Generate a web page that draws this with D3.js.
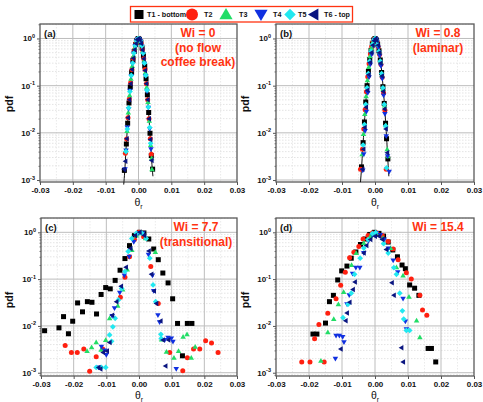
<!DOCTYPE html>
<html>
<head>
<meta charset="utf-8">
<script src="https://cdn.jsdelivr.net/npm/d3@7"></script>
<style>
  body { margin: 0; background: #fff; }
  svg { font-family: Arial, "Liberation Sans", sans-serif; display: block; }
</style>
</head>
<body>
<svg id="chart" width="483" height="402"></svg>
<script>
// ---- series metadata ----
const seriesNames  = ["T1 - bottom", "T2", "T3", "T4", "T5", "T6 - top"];
const seriesColors = ["#000000", "#ff2010", "#22dd66", "#1030e0", "#22e8f0", "#0a1580"];
const seriesShapes = ["square", "circle", "triUp", "triDown", "diamond", "triLeft"];

// ---- axis ticks ----
const xTickValues = [-0.03, -0.02, -0.01, 0.00, 0.01, 0.02, 0.03];
const xMinorValues = [-0.025, -0.015, -0.005, 0.005, 0.015, 0.025];
const yDecades = [0, -1, -2, -3];

// ---- panel texts ----
const panelTags = ["(a)", "(b)", "(c)", "(d)"];
const panelTitles = [
  ["Wi = 0", "(no flow", "coffee break)"],
  ["Wi = 0.8", "(laminar)"],
  ["Wi = 7.7", "(transitional)"],
  ["Wi = 15.4"]
];

// ---- (a) Wi = 0 : [theta_r, pdf] ----
const a_T1 = [[-0.0043,0.0016],[-0.0037,0.0058],[-0.0033,0.016],[-0.0029,0.043],[-0.0025,0.094],[-0.0021,0.19],[-0.0017,0.34],[-0.0013,0.53],[-0.0009,0.74],[-0.0005,0.91],[-0.0001,1.0],[0.0003,0.96],[0.0007,0.83],[0.0011,0.63],[0.0015,0.43],[0.0019,0.26],[0.0023,0.14],[0.0027,0.064],[0.0031,0.027],[0.0035,0.0098],[0.0039,0.0033],[0.0043,0.0017]];
const a_T2 = [[-0.0040,0.0037],[-0.0036,0.0074],[-0.0032,0.021],[-0.0028,0.052],[-0.0024,0.115],[-0.0020,0.22],[-0.0016,0.38],[-0.0012,0.58],[-0.0008,0.79],[-0.0004,0.94],[0.0000,1.0],[0.0004,0.94],[0.0008,0.78],[0.0012,0.58],[0.0016,0.37],[0.0020,0.22],[0.0024,0.11],[0.0028,0.05],[0.0032,0.02],[0.0036,0.0075],[0.0039,0.0035]];
const a_T3 = [[-0.0039,0.0043],[-0.0035,0.011],[-0.0031,0.027],[-0.0027,0.063],[-0.0023,0.14],[-0.0019,0.26],[-0.0015,0.43],[-0.0011,0.64],[-0.0007,0.83],[-0.0003,0.96],[0.0001,0.99],[0.0005,0.91],[0.0009,0.73],[0.0013,0.53],[0.0017,0.34],[0.0021,0.19],[0.0025,0.092],[0.0029,0.045],[0.0033,0.018],[0.0037,0.0055],[0.0040,0.0029],[0.0041,0.0017]];
const a_T4 = [[-0.0041,0.0017],[-0.0038,0.0042],[-0.0034,0.013],[-0.0030,0.032],[-0.0026,0.078],[-0.0022,0.16],[-0.0018,0.29],[-0.0014,0.48],[-0.0010,0.69],[-0.0006,0.87],[-0.0002,0.98],[0.0002,0.98],[0.0006,0.87],[0.0010,0.68],[0.0014,0.47],[0.0018,0.29],[0.0022,0.16],[0.0026,0.075],[0.0030,0.034],[0.0034,0.012],[0.0038,0.0045]];
const a_T5 = [[-0.0038,0.0040],[-0.0034,0.012],[-0.0030,0.034],[-0.0026,0.075],[-0.0022,0.165],[-0.0018,0.30],[-0.0014,0.49],[-0.0010,0.70],[-0.0006,0.88],[-0.0002,0.99],[0.0002,0.99],[0.0006,0.88],[0.0010,0.70],[0.0014,0.49],[0.0018,0.30],[0.0022,0.165],[0.0026,0.08],[0.0030,0.035],[0.0034,0.013],[0.0037,0.006]];
const a_T6 = [[-0.0044,0.0017],[-0.0040,0.0025],[-0.0036,0.0075],[-0.0032,0.021],[-0.0028,0.05],[-0.0024,0.11],[-0.0020,0.22],[-0.0016,0.38],[-0.0012,0.58],[-0.0008,0.78],[-0.0004,0.94],[0.0000,1.0],[0.0004,0.93],[0.0008,0.78],[0.0012,0.57],[0.0016,0.37],[0.0020,0.21],[0.0024,0.11],[0.0028,0.05],[0.0032,0.02],[0.0036,0.0072],[0.0040,0.0026]];
const a_fit = [[-0.0045,0.0008],[-0.0042,0.0015],[-0.0038,0.0045],[-0.0034,0.0125],[-0.0030,0.033],[-0.0026,0.078],[-0.0022,0.16],[-0.0018,0.29],[-0.0014,0.48],[-0.0010,0.69],[-0.0006,0.87],[-0.0003,0.97],[0.0000,1.0],[0.0003,0.97],[0.0006,0.87],[0.0010,0.69],[0.0014,0.48],[0.0018,0.29],[0.0022,0.16],[0.0026,0.078],[0.0030,0.033],[0.0034,0.0125],[0.0038,0.0045],[0.0042,0.0017],[0.0044,0.0012]];

// ---- (b) Wi = 0.8 ----
const b_T1 = [[-0.0041,0.0019],[-0.0036,0.0062],[-0.0032,0.017],[-0.0028,0.045],[-0.0024,0.10],[-0.0020,0.20],[-0.0016,0.36],[-0.0012,0.56],[-0.0008,0.77],[-0.0004,0.93],[0.0000,1.0],[0.0004,0.93],[0.0008,0.76],[0.0012,0.55],[0.0016,0.35],[0.0020,0.19],[0.0024,0.095],[0.0028,0.042],[0.0032,0.016],[0.0035,0.0075],[0.0039,0.0028]];
const b_T2 = [[-0.0044,0.0017],[-0.0038,0.0045],[-0.0034,0.012],[-0.0030,0.031],[-0.0026,0.074],[-0.0022,0.155],[-0.0018,0.29],[-0.0014,0.47],[-0.0010,0.68],[-0.0006,0.87],[-0.0002,0.98],[0.0002,0.97],[0.0006,0.86],[0.0010,0.67],[0.0014,0.46],[0.0018,0.28],[0.0022,0.15],[0.0026,0.07],[0.0030,0.03],[0.0034,0.0017]];
const b_T3 = [[-0.0039,0.0035],[-0.0035,0.0095],[-0.0031,0.025],[-0.0027,0.06],[-0.0023,0.13],[-0.0019,0.25],[-0.0015,0.42],[-0.0011,0.63],[-0.0007,0.82],[-0.0003,0.96],[0.0001,0.99],[0.0005,0.90],[0.0009,0.72],[0.0013,0.51],[0.0017,0.32],[0.0021,0.17],[0.0025,0.085],[0.0029,0.038],[0.0033,0.0145],[0.0037,0.0045],[0.0039,0.0032]];
const b_T4 = [[-0.0037,0.0016],[-0.0034,0.0035],[-0.0030,0.011],[-0.0026,0.028],[-0.0022,0.07],[-0.0018,0.15],[-0.0014,0.28],[-0.0010,0.46],[-0.0006,0.70],[-0.0002,0.93],[0.0002,0.97],[0.0006,0.85],[0.0010,0.64],[0.0014,0.43],[0.0018,0.26],[0.0022,0.14],[0.0026,0.062],[0.0030,0.025],[0.0034,0.0085],[0.0038,0.0032],[0.0043,0.0015]];
const b_T5 = [[-0.0036,0.0055],[-0.0032,0.015],[-0.0028,0.04],[-0.0024,0.09],[-0.0020,0.18],[-0.0016,0.33],[-0.0012,0.53],[-0.0008,0.74],[-0.0004,0.92],[0.0000,1.0],[0.0004,0.92],[0.0008,0.74],[0.0012,0.53],[0.0016,0.33],[0.0020,0.18],[0.0024,0.09],[0.0028,0.04],[0.0032,0.014],[0.0035,0.0018]];
const b_T6 = [[-0.0038,0.0017],[-0.0035,0.0045],[-0.0031,0.013],[-0.0027,0.035],[-0.0023,0.08],[-0.0019,0.17],[-0.0015,0.31],[-0.0011,0.50],[-0.0007,0.72],[-0.0003,0.90],[0.0001,0.99],[0.0005,0.91],[0.0009,0.72],[0.0013,0.50],[0.0017,0.30],[0.0021,0.16],[0.0025,0.075],[0.0029,0.032],[0.0033,0.012],[0.0037,0.0038]];
const b_fit = [[-0.0044,0.0009],[-0.0041,0.0017],[-0.0037,0.0048],[-0.0033,0.013],[-0.0029,0.034],[-0.0025,0.08],[-0.0021,0.165],[-0.0017,0.30],[-0.0013,0.49],[-0.0009,0.70],[-0.0005,0.88],[-0.0002,0.98],[0.0001,1.0],[0.0004,0.95],[0.0008,0.80],[0.0012,0.59],[0.0016,0.38],[0.0020,0.21],[0.0024,0.105],[0.0028,0.046],[0.0032,0.018],[0.0036,0.0062],[0.0040,0.002],[0.0042,0.0012]];

// ---- (c) Wi = 7.7 ----
const c_T1 = [[-0.0289,0.0079],[-0.0245,0.0091],[-0.0231,0.0158],[-0.0216,0.0068],[-0.0203,0.0126],[-0.0188,0.031],[-0.0173,0.020],[-0.0158,0.033],[-0.0144,0.032],[-0.0130,0.018],[-0.0116,0.047],[-0.0102,0.066],[-0.0088,0.062],[-0.0073,0.094],[-0.0058,0.155],[-0.0043,0.275],[-0.0029,0.52],[-0.0014,0.85],[0.0001,1.0],[0.0015,0.97],[0.0030,0.72],[0.0045,0.44],[0.0059,0.26],[0.0073,0.135],[0.0089,0.083],[0.0103,0.038],[0.0118,0.0113],[0.0133,0.0023],[0.0148,0.0113],[0.0162,0.0113]];
const c_T2 = [[-0.0226,0.0038],[-0.0207,0.0027],[-0.0189,0.0027],[-0.0169,0.0032],[-0.0151,0.00107],[-0.0131,0.0022],[-0.0111,0.0032],[-0.0057,0.041],[-0.0043,0.11],[-0.0029,0.30],[-0.0014,0.70],[0.0000,1.0],[0.0014,0.80],[0.0036,0.185],[0.0059,0.030],[0.0094,0.0027],[0.0134,0.0011],[0.0148,0.0021],[0.0167,0.0032],[0.0186,0.0032],[0.0204,0.0048],[0.0222,0.0043],[0.0242,0.0027]];
const c_T3 = [[-0.0159,0.0029],[-0.0145,0.0035],[-0.0131,0.0045],[-0.0116,0.0031],[-0.0102,0.0050],[-0.0090,0.0145],[-0.0065,0.027],[-0.0050,0.06],[-0.0036,0.16],[-0.0022,0.42],[-0.0008,0.85],[0.0006,0.95],[0.0020,0.75],[0.0050,0.38],[0.0069,0.0051],[0.0084,0.0028],[0.0107,0.0021],[0.0121,0.0029],[0.0135,0.0059],[0.0147,0.0066],[0.0160,0.0021],[0.0172,0.0036]];
const c_T4 = [[-0.0124,0.0013],[-0.0115,0.0036],[-0.0105,0.0030],[-0.0100,0.0024],[-0.0082,0.0163],[-0.0075,0.024],[-0.0059,0.051],[-0.0045,0.12],[-0.0030,0.30],[-0.0016,0.62],[-0.0002,0.95],[0.0012,0.95],[0.0029,0.33],[0.0041,0.12],[0.0045,0.056],[0.0058,0.017],[0.0063,0.012],[0.0079,0.0050],[0.0089,0.0056],[0.0099,0.0054],[0.0104,0.0046],[0.0114,0.0012]];
const c_T5 = [[-0.0131,0.0013],[-0.0115,0.0013],[-0.0102,0.0013],[-0.0090,0.0064],[-0.0084,0.0047],[-0.0080,0.0096],[-0.0073,0.0145],[-0.0063,0.036],[-0.0053,0.063],[-0.0043,0.145],[-0.0033,0.39],[-0.0022,0.74],[-0.0008,0.95],[0.0008,0.97],[0.0022,0.74],[0.0033,0.28],[0.0043,0.075],[0.0051,0.033],[0.0067,0.0066],[0.0068,0.0054]];
const c_T6 = [[-0.0124,0.0013],[-0.0118,0.0012],[-0.0110,0.0027],[-0.0098,0.0029],[-0.0090,0.0044],[-0.0082,0.017],[-0.0069,0.033],[-0.0055,0.07],[-0.0040,0.18],[-0.0026,0.45],[-0.0012,0.85],[0.0002,1.0],[0.0016,0.85],[0.0030,0.40],[0.0038,0.127],[0.0046,0.056],[0.0053,0.030],[0.0066,0.0127],[0.0073,0.0050],[0.0081,0.0014],[0.0090,0.0050]];

// ---- (d) Wi = 15.4 ----
const d_T1 = [[-0.0188,0.0067],[-0.0176,0.0067],[-0.0150,0.0115],[-0.0138,0.033],[-0.0126,0.045],[-0.0113,0.096],[-0.0101,0.15],[-0.0085,0.19],[-0.0072,0.28],[-0.0058,0.38],[-0.0044,0.55],[-0.0030,0.72],[-0.0016,0.90],[-0.0002,1.0],[0.0012,0.95],[0.0026,0.83],[0.0040,0.62],[0.0054,0.42],[0.0068,0.30],[0.0082,0.20],[0.0092,0.167],[0.0105,0.075],[0.0120,0.064],[0.0133,0.045],[0.0161,0.0033],[0.0171,0.0033],[0.0184,0.0017]];
const d_T2 = [[-0.0222,0.0017],[-0.0197,0.0017],[-0.0183,0.0053],[-0.0170,0.0107],[-0.0154,0.0017],[-0.0143,0.0187],[-0.0118,0.038],[-0.0104,0.074],[-0.0090,0.14],[-0.0077,0.285],[-0.0064,0.376],[-0.0049,0.50],[-0.0036,0.72],[-0.0021,0.85],[-0.0008,0.97],[0.0006,0.97],[0.0022,0.85],[0.0040,0.64],[0.0055,0.44],[0.0070,0.26],[0.0095,0.137],[0.0110,0.10],[0.0136,0.045],[0.0144,0.022],[0.0157,0.017]];
const d_T3 = [[-0.0164,0.0018],[-0.0143,0.0073],[-0.0125,0.014],[-0.0111,0.029],[-0.0095,0.053],[-0.0071,0.20],[-0.0057,0.36],[-0.0034,0.59],[-0.0014,0.82],[0.0004,0.97],[0.0024,0.76],[0.0047,0.46],[0.0065,0.18],[0.0085,0.12],[0.0103,0.042],[0.0126,0.013],[0.0136,0.0057]];
const d_T4 = [[-0.0120,0.0020],[-0.0118,0.0062],[-0.0108,0.0062],[-0.0098,0.0058],[-0.0094,0.0045],[-0.0085,0.029],[-0.0078,0.045],[-0.0068,0.13],[-0.0058,0.175],[-0.0046,0.175],[-0.0034,0.36],[-0.0020,0.65],[-0.0008,0.88],[0.0004,0.97],[0.0016,0.88],[0.0028,0.70],[0.0040,0.45],[0.0055,0.25],[0.0069,0.14],[0.0085,0.038],[0.0092,0.0125],[0.0095,0.0085]];
const d_T5 = [[-0.0097,0.015],[-0.0082,0.029],[-0.0072,0.05],[-0.0062,0.127],[-0.0045,0.28],[-0.0034,0.46],[-0.0021,0.70],[-0.0008,0.94],[0.0002,0.99],[0.0026,0.57],[0.0040,0.36],[0.0057,0.175],[0.0065,0.127],[0.0075,0.05],[0.0083,0.021],[0.0087,0.014],[0.0095,0.008],[0.0105,0.008]];
const d_T6 = [[-0.0104,0.0032],[-0.0089,0.0129],[-0.0085,0.019],[-0.0077,0.032],[-0.0067,0.06],[-0.0061,0.087],[-0.0034,0.36],[-0.0026,0.52],[-0.0014,0.70],[0.0000,0.82],[0.0012,0.82],[0.0022,0.70],[0.0034,0.43],[0.0051,0.084],[0.0057,0.045],[0.0080,0.0034],[0.0085,0.0017]];

const panels = [
  { x0: 40,  x1: 237, y0: 24,  y1: 182, yTop: 0.307, yBot: -3.042, series: [a_T1, a_T2, a_T3, a_T4, a_T5, a_T6], fit: a_fit, titleX: 198, titleY: 37, ylabX: 13, ylabY: 104, xlabY: 206 },
  { x0: 276, x1: 474, y0: 24,  y1: 182, yTop: 0.307, yBot: -3.042, series: [b_T1, b_T2, b_T3, b_T4, b_T5, b_T6], fit: b_fit, titleX: 438, titleY: 37, ylabX: 249, ylabY: 104, xlabY: 206 },
  { x0: 41,  x1: 237, y0: 218, y1: 376, yTop: 0.306, yBot: -3.07,  series: [c_T1, c_T2, c_T3, c_T4, c_T5, c_T6], fit: null, titleX: 196, titleY: 231, ylabX: 13, ylabY: 300, xlabY: 399 },
  { x0: 276, x1: 474, y0: 218, y1: 376, yTop: 0.306, yBot: -3.07,  series: [d_T1, d_T2, d_T3, d_T4, d_T5, d_T6], fit: null, titleX: 438, titleY: 231, ylabX: 249, ylabY: 300, xlabY: 399 }
];

const svg = d3.select("#chart");

// marker path centred on 0,0 with nominal size s
function shapePath(shape, s) {
  const h = s / 2;
  switch (shape) {
    case "square":  return `M${-h},${-h}H${h}V${h}H${-h}Z`;
    case "circle":  return `M${h},0A${h},${h} 0 1,1 ${-h},0A${h},${h} 0 1,1 ${h},0Z`;
    case "triUp":   return `M0,${-h * 1.1}L${h * 1.1},${h * 0.8}L${-h * 1.1},${h * 0.8}Z`;
    case "triDown": return `M0,${h * 1.1}L${h * 1.1},${-h * 0.8}L${-h * 1.1},${-h * 0.8}Z`;
    case "diamond": return `M0,${-h * 1.15}L${h * 1.15},0L0,${h * 1.15}L${-h * 1.15},0Z`;
    case "triLeft": return `M${-h * 1.1},0L${h * 0.8},${-h * 1.1}L${h * 0.8},${h * 1.1}Z`;
  }
}

panels.forEach((p, i) => {
  const x = d3.scaleLinear().domain([-0.03, 0.03]).range([p.x0, p.x1]);
  const y = d3.scaleLog().domain([Math.pow(10, p.yBot), Math.pow(10, p.yTop)]).range([p.y1, p.y0]);
  const g = svg.append("g");

  // minor grid (dotted)
  const yMinor = [];
  [-4, -3, -2, -1, 0].forEach(k => { for (let m = 2; m <= 9; m++) yMinor.push(m * Math.pow(10, k)); });
  const yMinorIn = yMinor.filter(v => v > y.domain()[0] && v < y.domain()[1]);
  g.selectAll(".hmin").data(yMinorIn).join("line")
    .attr("x1", p.x0).attr("x2", p.x1).attr("y1", d => y(d)).attr("y2", d => y(d))
    .attr("stroke", "#d8d8d8").attr("stroke-width", 0.7).attr("stroke-dasharray", "1.5,1.5");
  g.selectAll(".vmin").data(xMinorValues).join("line")
    .attr("x1", d => x(d)).attr("x2", d => x(d)).attr("y1", p.y0).attr("y2", p.y1)
    .attr("stroke", "#e2e2e2").attr("stroke-width", 0.7).attr("stroke-dasharray", "1.5,1.5");

  // major grid
  g.selectAll(".hmaj").data(yDecades).join("line")
    .attr("x1", p.x0).attr("x2", p.x1).attr("y1", d => y(Math.pow(10, d))).attr("y2", d => y(Math.pow(10, d)))
    .attr("stroke", "#bdbdbd").attr("stroke-width", 1);
  g.selectAll(".vmaj").data(xTickValues.slice(1, -1)).join("line")
    .attr("x1", d => x(d)).attr("x2", d => x(d)).attr("y1", p.y0).attr("y2", p.y1)
    .attr("stroke", "#bdbdbd").attr("stroke-width", 1);

  // x axis
  const xAxis = d3.axisBottom(x).tickValues(xTickValues).tickSize(3).tickPadding(2)
    .tickFormat(d => d.toFixed(2));
  const gx = g.append("g").attr("transform", `translate(0,${p.y1})`).call(xAxis);
  gx.select(".domain").remove();
  gx.selectAll("line").attr("stroke", "#555");
  gx.selectAll("text").attr("font-size", 8).attr("font-weight", "bold").attr("fill", "#111")
    .attr("font-family", "Arial, 'Liberation Sans', sans-serif");

  // y axis (log decades)
  const yAxis = d3.axisLeft(y).tickValues(yDecades.map(d => Math.pow(10, d))).tickSize(3).tickFormat("");
  const gy = g.append("g").attr("transform", `translate(${p.x0},0)`).call(yAxis);
  gy.select(".domain").remove();
  gy.selectAll("line").attr("stroke", "#555");
  const yAxisMinor = d3.axisLeft(y).tickValues(yMinorIn).tickSize(1.5).tickFormat("");
  const gym = g.append("g").attr("transform", `translate(${p.x0},0)`).call(yAxisMinor);
  gym.select(".domain").remove();
  gym.selectAll("line").attr("stroke", "#777");

  const yl = g.selectAll(".ylab").data(yDecades).join("text")
    .attr("x", p.x0 - 5).attr("y", d => y(Math.pow(10, d)) + 3)
    .attr("text-anchor", "end").attr("font-size", 8).attr("font-weight", "bold").attr("fill", "#111");
  yl.append("tspan").text("10");
  yl.append("tspan").attr("dy", -3.5).attr("font-size", 5.5).text(d => d);

  // frame
  g.append("rect").attr("x", p.x0).attr("y", p.y0).attr("width", p.x1 - p.x0).attr("height", p.y1 - p.y0)
    .attr("fill", "none").attr("stroke", "#5a5a5a").attr("stroke-width", 1.3);

  // fit line
  if (p.fit) {
    const line = d3.line().x(d => x(d[0])).y(d => y(d[1])).curve(d3.curveMonotoneX);
    g.append("path").datum(p.fit).attr("d", line).attr("fill", "none").attr("stroke", "#111").attr("stroke-width", 1);
  }

  // markers
  p.series.forEach((data, si) => {
    g.append("g").selectAll("path").data(data).join("path")
      .attr("transform", d => `translate(${x(d[0])},${y(d[1])})`)
      .attr("d", shapePath(seriesShapes[si], 5))
      .attr("fill", seriesColors[si]);
  });

  // panel tag
  g.append("text").attr("x", p.x0 + 4).attr("y", p.y0 + 13).attr("font-size", 9.5).attr("font-weight", "bold")
    .attr("fill", "#111").text(panelTags[i]);

  // condition title
  g.append("text").attr("x", p.titleX).attr("y", p.titleY).attr("text-anchor", "middle")
    .attr("font-size", 12).attr("font-weight", "bold").attr("fill", "#ff3311")
    .selectAll("tspan").data(panelTitles[i]).join("tspan")
    .attr("x", p.titleX).attr("dy", (d, k) => k === 0 ? 0 : 14.5).text(d => d);

  // axis titles
  g.append("text").attr("transform", `translate(${p.ylabX},${p.ylabY}) rotate(-90)`)
    .attr("text-anchor", "middle").attr("font-size", 10.5).attr("font-weight", "bold").attr("fill", "#111").text("pdf");
  const xl = g.append("text").attr("x", (p.x0 + p.x1) / 2).attr("y", p.xlabY).attr("text-anchor", "middle")
    .attr("font-size", 10.5).attr("fill", "#111");
  xl.append("tspan").text("θ");
  xl.append("tspan").attr("dy", 3).attr("font-size", 7).text("r");
});

// legend
const legend = svg.append("g");
legend.append("rect").attr("x", 130.5).attr("y", 6.5).attr("width", 222).attr("height", 15.5)
  .attr("fill", "#fff").attr("stroke", "#ff3311").attr("stroke-width", 1.3);
const legendMarkerX = [139, 192, 226, 261, 290, 314];
const legendTextX = [147, 204, 239, 273, 298, 324];
const legendMarkerSize = [9, 12, 12, 12, 10, 11];
seriesNames.forEach((name, i) => {
  legend.append("path").attr("transform", `translate(${legendMarkerX[i]},14.5)`)
    .attr("d", shapePath(seriesShapes[i], legendMarkerSize[i])).attr("fill", seriesColors[i]);
  legend.append("text").attr("x", legendTextX[i]).attr("y", 17.2).attr("font-size", 7.2)
    .attr("font-weight", "bold").attr("fill", "#111").text(name);
});
</script>
</body>
</html>
